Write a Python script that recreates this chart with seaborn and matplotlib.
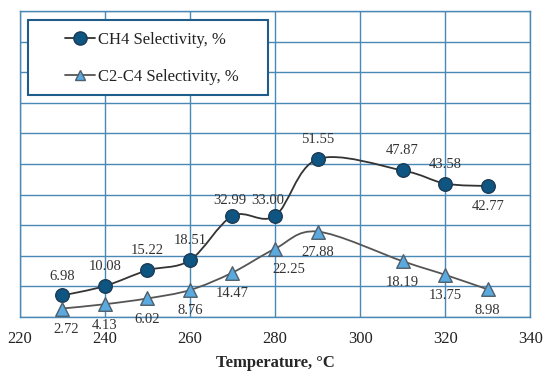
import numpy as np
import pandas as pd
import matplotlib
matplotlib.use("Agg")
import matplotlib.pyplot as plt
from matplotlib.path import Path
from matplotlib.patches import PathPatch, Rectangle
from matplotlib.lines import Line2D
import seaborn as sns

# ── data ─────────────────────────────────────────────────────
temperature = [230, 240, 250, 260, 270, 280, 290, 310, 320, 330]
ch4_sel = [6.98, 10.08, 15.22, 18.51, 32.99, 33.00, 51.55, 47.87, 43.58, 42.77]
c2c4_sel = [2.72, 4.13, 6.02, 8.76, 14.47, 22.25, 27.88, 18.19, 13.75, 8.98]
x_ticks = [220, 240, 260, 280, 300, 320, 340]
series_names = ["CH4 Selectivity, %", "C2-C4 Selectivity, %"]

# ── style ────────────────────────────────────────────────────
sns.set_theme(style="white")
plt.rcParams["font.family"] = ["Liberation Serif", "DejaVu Serif"]

GRID = "#4A88B5"
CH4_FACE = "#0E5582"
CH4_EDGE = "#1B3A55"
C2_FACE = "#5AAAE0"
C2_EDGE = "#4F5F6C"


def smooth_path(xs, ys):
    # Excel-style smoothed line (Catmull-Rom as cubic Bezier segments)
    pts = np.column_stack([xs, ys]).astype(float)
    verts = [pts[0]]
    codes = [Path.MOVETO]
    n = len(pts)
    for i in range(n - 1):
        p0 = pts[i - 1] if i > 0 else pts[i]
        p1 = pts[i]
        p2 = pts[i + 1]
        p3 = pts[i + 2] if i + 2 < n else pts[i + 1]
        c1 = p1 + (p2 - p0) / 6.0
        c2 = p2 - (p3 - p1) / 6.0
        verts += [c1, c2, p2]
        codes += [Path.CURVE4] * 3
    return Path(verts, codes)


df = pd.DataFrame({"T": temperature, "ch4": ch4_sel, "c2": c2c4_sel})

fig, ax = plt.subplots(figsize=(5.5, 3.79), dpi=100)
fig.subplots_adjust(left=0.036, right=0.964, top=0.971, bottom=0.164)

ax.add_patch(PathPatch(smooth_path(temperature, ch4_sel), fill=False,
                       edgecolor="#333333", lw=1.3, zorder=3))
ax.add_patch(PathPatch(smooth_path(temperature, c2c4_sel), fill=False,
                       edgecolor="#555555", lw=1.3, zorder=3))

sns.scatterplot(data=df, x="T", y="ch4", marker="o", s=95, color=CH4_FACE,
                edgecolor=CH4_EDGE, linewidth=1.0, zorder=4, ax=ax)
sns.scatterplot(data=df, x="T", y="c2", marker="^", s=95, color=C2_FACE,
                edgecolor=C2_EDGE, linewidth=1.0, zorder=4, ax=ax)

# data labels
ch4_off = {270: (-2, 11), 280: (-5, 11), 330: (0, -15)}
for t, v in zip(temperature, ch4_sel):
    dx, dy = ch4_off.get(t, (0, 14))
    ax.annotate(f"{v:.2f}", (t, v), xytext=(dx, dy), textcoords="offset points",
                ha="center", va="center", fontsize=10.5, color="#333333", zorder=5)
c2_off = {280: (10, -15), 230: (3, -15)}
for t, v in zip(temperature, c2c4_sel):
    dx, dy = c2_off.get(t, (0, -15))
    ax.annotate(f"{v:.2f}", (t, v), xytext=(dx, dy), textcoords="offset points",
                ha="center", va="center", fontsize=10.5, color="#333333", zorder=5)

ax.set_xlim(220, 340)
ax.set_ylim(0, 100)
ax.set_xticks(x_ticks)
ax.set_yticks(np.arange(0, 101, 10))
ax.set_yticklabels([])
ax.grid(True, color=GRID, lw=1.0)
ax.set_axisbelow(True)
for sp in ax.spines.values():
    sp.set_color(GRID)
    sp.set_linewidth(1.0)
ax.tick_params(axis="x", length=0, pad=10, labelsize=12, colors="#222222")
ax.tick_params(axis="y", length=0)
ax.set_xlabel("Temperature, °C", fontsize=12, fontweight="bold", labelpad=6)
ax.set_ylabel("")

# legend: white box with blue frame, entries inset
ax.add_patch(Rectangle((0.0157, 0.7255), 0.4706, 0.245, transform=ax.transAxes,
                       facecolor="white", edgecolor="#1F5C8A", lw=1.5, zorder=6))
handles = [
    Line2D([], [], color="#333333", lw=1.3, marker="o", markersize=9.5,
           markerfacecolor=CH4_FACE, markeredgecolor=CH4_EDGE),
    Line2D([], [], color="#555555", lw=1.3, marker="^", markersize=7.5,
           markerfacecolor=C2_FACE, markeredgecolor=C2_EDGE),
]
leg = ax.legend(handles, series_names, loc="upper left",
                bbox_to_anchor=(0.088, 0.932), borderaxespad=0, fontsize=12,
                frameon=False, handlelength=1.8, borderpad=0,
                labelspacing=1.25, handletextpad=0.2)
for txt in leg.get_texts():
    txt.set_color("#222222")
leg.set_zorder(7)

fig.savefig("out.png", dpi=100)
